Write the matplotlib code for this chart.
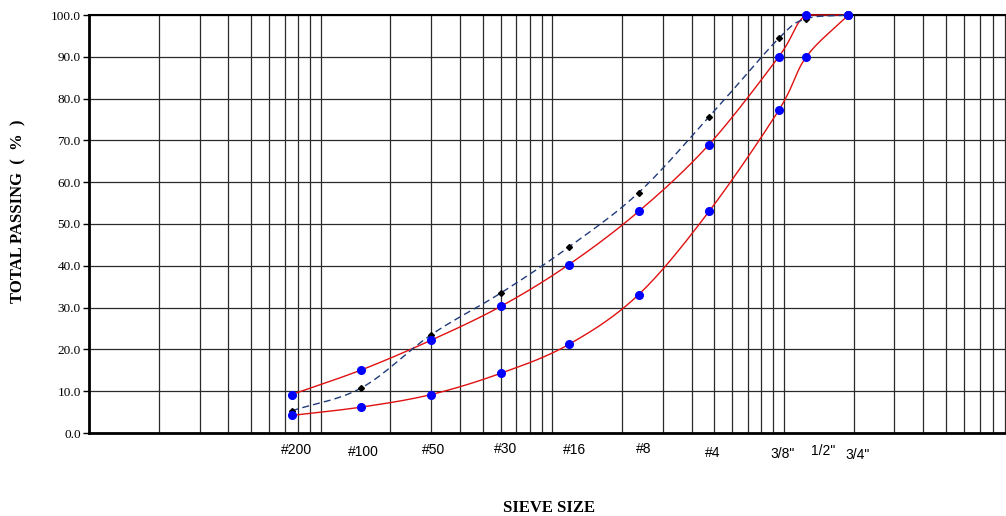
import numpy as np
import matplotlib
matplotlib.use("Agg")
import matplotlib.pyplot as plt
from matplotlib.transforms import offset_copy

# sieve openings (mm) and their names
sieve_mm = [0.075, 0.15, 0.3, 0.6, 1.18, 2.36, 4.75, 9.5, 12.5, 19.0]
sieve_names = ["#200", "#100", "#50", "#30", "#16", "#8", "#4", '3/8"', '1/2"', '3/4"']

# spec limits (total passing %)
upper_limit = [9.2, 15.1, 22.2, 30.3, 40.3, 53.0, 69.0, 90.0, 100.0, 100.0]
lower_limit = [4.2, 6.2, 9.2, 14.3, 21.2, 33.1, 53.0, 77.2, 90.0, 100.0]
# job mix gradation
blend = [5.3, 10.8, 23.5, 33.5, 44.5, 57.5, 75.6, 94.4, 99.1, 100.0]

y_ticks = [0, 10, 20, 30, 40, 50, 60, 70, 80, 90, 100]


def smooth(xs, ys, n=30):
    # excel-like smoothed line: catmull-rom through the points in log-x space
    px = np.log10(xs)
    py = np.asarray(ys, dtype=float)
    px = np.concatenate([[2 * px[0] - px[1]], px, [2 * px[-1] - px[-2]]])
    py = np.concatenate([[2 * py[0] - py[1]], py, [2 * py[-1] - py[-2]]])
    out_x, out_y = [], []
    t = np.linspace(0, 1, n)
    for i in range(1, len(px) - 2):
        p0, p1, p2, p3 = [np.array([px[j], py[j]]) for j in (i - 1, i, i + 1, i + 2)]
        c1 = p1 + (p2 - p0) / 6
        c2 = p2 - (p3 - p1) / 6
        b = ((1 - t) ** 3)[:, None] * p1 + (3 * (1 - t) ** 2 * t)[:, None] * c1 \
            + (3 * (1 - t) * t ** 2)[:, None] * c2 + (t ** 3)[:, None] * p2
        out_x.extend(b[:, 0])
        out_y.extend(b[:, 1])
    return 10 ** np.array(out_x), np.minimum(np.array(out_y), 100)


fig = plt.figure(figsize=(10.06, 5.16), dpi=100)
ax = fig.add_axes([89 / 1006, (516 - 433) / 516, (1006 - 89) / 1006, 418 / 516])

ax.set_xscale("log")
ax.set_xlim(0.01, 91)
ax.set_ylim(0, 100)

# grid
for dec in [0.01, 0.1, 1, 10]:
    for k in range(1, 10):
        ax.axvline(dec * k, color="#2a2a2a", lw=0.9, zorder=1)
for v in y_ticks:
    ax.axhline(v, color="#2a2a2a", lw=0.9, zorder=1)

bx, by = smooth(sieve_mm, blend)
ax.plot(bx, by, color="#1f3a7a", lw=1.0, dashes=(5, 3), zorder=4, clip_on=False)
ax.plot(sieve_mm, blend, "D", color="black", ms=3, zorder=5, clip_on=False)

for ys in (upper_limit, lower_limit):
    sx, sy = smooth(sieve_mm, ys)
    ax.plot(sx, sy, color="#e01010", lw=1.0, zorder=3, clip_on=False)
    ax.plot(sieve_mm, ys, "o", color="#0000ff", ms=5.5, zorder=6, clip_on=False)

ax.set_yticks(y_ticks)
ax.set_yticklabels(["%.1f" % v for v in y_ticks], family="Liberation Serif", fontsize=9.5)
ax.tick_params(axis="y", length=4, width=1, direction="out", pad=2)
ax.set_xticks([])
ax.minorticks_off()
ax.tick_params(axis="x", which="both", length=0, labelbottom=False)

for s in ["left", "bottom"]:
    ax.spines[s].set_linewidth(2)
ax.spines["top"].set_linewidth(1.5)
ax.spines["right"].set_visible(False)

label_dx = [5, 2, 2, 5, 6, 5, 4, 4, 17, 9]
label_dy = [-17, -19, -17, -16, -17, -16, -20, -21, -18, -22]
for mm, name, dx, dy in zip(sieve_mm, sieve_names, label_dx, label_dy):
    tr = offset_copy(ax.get_xaxis_transform(), fig=fig, x=dx, y=dy, units="dots")
    ax.text(mm, 0, name, transform=tr, ha="center", va="center",
            family="Liberation Sans", fontsize=10)

fig.text(549 / 1006, 1 - 508 / 516, "SIEVE SIZE", ha="center", va="center",
         family="Liberation Serif", fontweight="bold", fontsize=12)
fig.text(18 / 1006, 1 - 211 / 516, "TOTAL PASSING  (  %  )", ha="center", va="center",
         rotation=90, family="Liberation Serif", fontweight="bold", fontsize=12)

fig.savefig("out.png", dpi=100)
